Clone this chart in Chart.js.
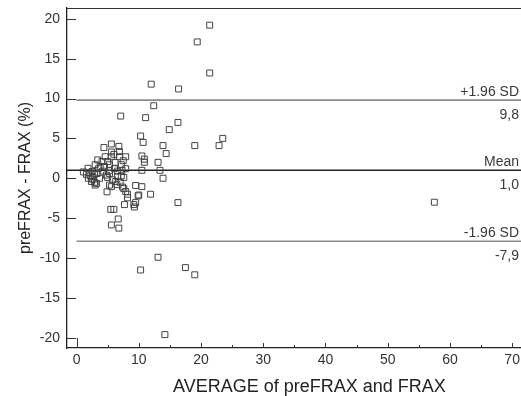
<!DOCTYPE html>
<html><head><meta charset="utf-8">
<script src="https://cdn.jsdelivr.net/npm/chart.js@4.4.0/dist/chart.umd.min.js"></script>
<style>
html,body{margin:0;padding:0;background:#fff;overflow:hidden}
#wrap{width:521px;height:396px;overflow:hidden;position:relative}
canvas{display:block}
</style></head>
<body><div id="wrap"><canvas id="c" width="557" height="396"></canvas></div>
<script>
// ---- data ----
const avgValues = [
  21.4,19.4,21.4,16.4,12.0,12.4,11.1,16.3,14.9,10.3,10.7,23.5,22.9,19.0,13.9,14.4,10.5,10.9,10.9,13.1,
  10.5,13.4,13.9,9.5,10.5,10.0,11.9,9.5,9.2,9.3,16.3,13.1,10.3,17.5,19.0,14.2,57.5,7.1,
  4.4,5.6,6.8,5.6,6.9,6.9,7.9,4.6,5.6,3.4,4.1,3.0,5.0,6.2,7.2,5.3,7.9,1.85,3.5,4.5,6.1,2.0,
  2.5,4.2,5.3,6.6,7.3,1.1,1.6,3.3,5.3,2.9,2.6,5.0,6.6,3.7,1.9,5.8,7.6,7.2,2.5,2.9,
  2.4,3.2,3.0,5.3,5.6,7.0,6.5,7.4,7.6,7.9,4.9,8.2,8.2,9.9,7.7,5.5,6.0,6.7,5.6,6.8,
  3.8,4.8,6.3,2.2,6.0,7.5
];
const diffValues = [
  19.2,17.1,13.2,11.2,11.8,9.1,7.6,7.0,6.1,5.3,4.5,5.0,4.1,4.1,4.1,3.1,2.8,2.4,2.0,2.0,
  1.0,1.0,0.0,-0.9,-1.05,-2.1,-2.0,-3.05,-3.3,-3.6,-3.05,-9.9,-11.5,-11.2,-12.1,-19.6,-3.0,7.8,
  3.85,4.3,4.0,3.3,3.35,2.7,2.7,2.7,2.7,2.3,2.1,1.7,2.1,2.0,1.7,1.7,1.2,1.25,1.2,1.45,1.2,0.7,
  0.85,0.9,1.0,0.9,1.0,0.8,0.5,0.6,0.6,0.5,0.2,0.1,0.2,0.0,0.0,-0.2,0.1,0.3,-0.1,-0.5,
  -0.4,-0.65,-0.85,-0.85,-1.05,-0.5,-0.8,-1.1,-1.3,-1.65,-1.7,-2.0,-2.45,-2.2,-3.3,-3.9,-3.9,-5.1,-5.85,-6.25,
  1.5,0.4,-0.4,0.3,3.0,2.2
];
const xTickValues = [0,5,10,15,20,25,30,35,40,45,50,55,60,65,70,75];
const xTickLabels = ['0','','10','','20','','30','','40','','50','','60','','70',''];
const yTickValues = [-20,-15,-10,-5,0,5,10,15,20];
const yTickLabels = ['-20','-15','-10','-5','0','5','10','15','20'];
const limitValues = [9.8, 1.0, -7.9];
const limitNames = ['+1.96 SD', 'Mean', '-1.96 SD'];
const limitTexts = ['9,8', '1,0', '-7,9'];
const xTitle = 'AVERAGE of preFRAX and FRAX';
const yTitle = 'preFRAX - FRAX (%)';

// ---- axis ranges ----
const X_MIN = -1.53, X_MAX = 76.37;
const Y_MIN = -21.28, Y_MAX = 21.35;
const FONT = '"Liberation Sans", Arial, Helvetica, sans-serif';

const points = avgValues.map((v, i) => ({x: v, y: diffValues[i]}));
const limitStarts = [0, X_MIN, 0];
const limitColors = ['#8a8a8a', '#222', '#8a8a8a'];
const limitWidths = [1.6, 1.4, 1.6];

const lineSets = limitValues.map((v, i) => ({
  type: 'line',
  data: [{x: limitStarts[i], y: v}, {x: X_MAX, y: v}],
  borderColor: limitColors[i], borderWidth: limitWidths[i],
  pointRadius: 0, fill: false, tension: 0, order: 2
}));

const axisDecor = {
  id: 'axisDecor',
  afterDraw(chart) {
    const {ctx, chartArea: a, scales: {x, y}} = chart;
    ctx.save();
    ctx.strokeStyle = '#333';
    ctx.lineWidth = 1;
    ctx.beginPath();
    ctx.moveTo(a.left, a.top + 0.5); ctx.lineTo(a.right, a.top + 0.5);
    yTickValues.forEach(v => {
      const py = Math.round(y.getPixelForValue(v)) + 0.5;
      ctx.moveTo(a.left, py); ctx.lineTo(a.left + 9, py);
    });
    xTickValues.forEach(v => {
      const px = Math.round(x.getPixelForValue(v)) + 0.5;
      const len = v === 0 ? 10 : (v % 10 === 0 ? 5 : 3);
      ctx.moveTo(px, a.bottom); ctx.lineTo(px, a.bottom - len);
    });
    ctx.stroke();
    ctx.fillStyle = '#3a3a3a';
    ctx.font = '14px ' + FONT;
    ctx.textAlign = 'right';
    ctx.textBaseline = 'alphabetic';
    const labelRight = 519;
    limitValues.forEach((v, i) => {
      const py = y.getPixelForValue(v);
      ctx.fillText(limitNames[i], labelRight, py - 4);
      ctx.fillText(limitTexts[i], labelRight, py + 18.5);
    });
    ctx.restore();
  }
};

new Chart(document.getElementById('c'), {
  type: 'scatter',
  data: {
    datasets: [
      ...lineSets,
      {
        data: points,
        pointStyle: 'rect',
        pointRadius: 4.2,
        pointHoverRadius: 4.2,
        borderColor: '#444',
        borderWidth: 1,
        backgroundColor: 'rgba(255,255,255,0)',
        order: 1
      }
    ]
  },
  options: {
    responsive: false,
    devicePixelRatio: 1,
    animation: false,
    events: [],
    layout: {padding: {left: 0, top: 0, right: 0, bottom: 0}},
    plugins: {legend: {display: false}, tooltip: {enabled: false}},
    scales: {
      x: {
        type: 'linear', min: X_MIN, max: X_MAX,
        afterBuildTicks: s => { s.ticks = xTickValues.map(v => ({value: v})); },
        afterFit: s => { s.height = 48; },
        ticks: {
          autoSkip: false, maxRotation: 0, padding: 4, color: '#333',
          font: {family: FONT, size: 14},
          callback: (v) => { const i = xTickValues.indexOf(v); return i >= 0 ? xTickLabels[i] : ''; }
        },
        grid: {drawOnChartArea: false, drawTicks: false},
        border: {display: true, color: '#222', width: 1.3},
        title: {display: true, text: xTitle, color: '#222',
          font: {family: FONT, size: 18, lineHeight: 1}, padding: {top: 0, bottom: 0}}
      },
      y: {
        type: 'linear', min: Y_MIN, max: Y_MAX,
        afterBuildTicks: s => { s.ticks = yTickValues.map(v => ({value: v})); },
        afterFit: s => { s.width = 67; s.paddingTop = 8; },
        ticks: {
          autoSkip: false, padding: 7, color: '#333',
          font: {family: FONT, size: 14},
          callback: (v) => { const i = yTickValues.indexOf(v); return i >= 0 ? yTickLabels[i] : ''; }
        },
        grid: {drawOnChartArea: false, drawTicks: false},
        border: {display: true, color: '#222', width: 1.3},
        title: {display: true, text: yTitle, color: '#222',
          font: {family: FONT, size: 16, lineHeight: 1.2}, padding: {top: 16, bottom: 0}}
      }
    }
  },
  plugins: [axisDecor]
});
</script>
</body></html>
